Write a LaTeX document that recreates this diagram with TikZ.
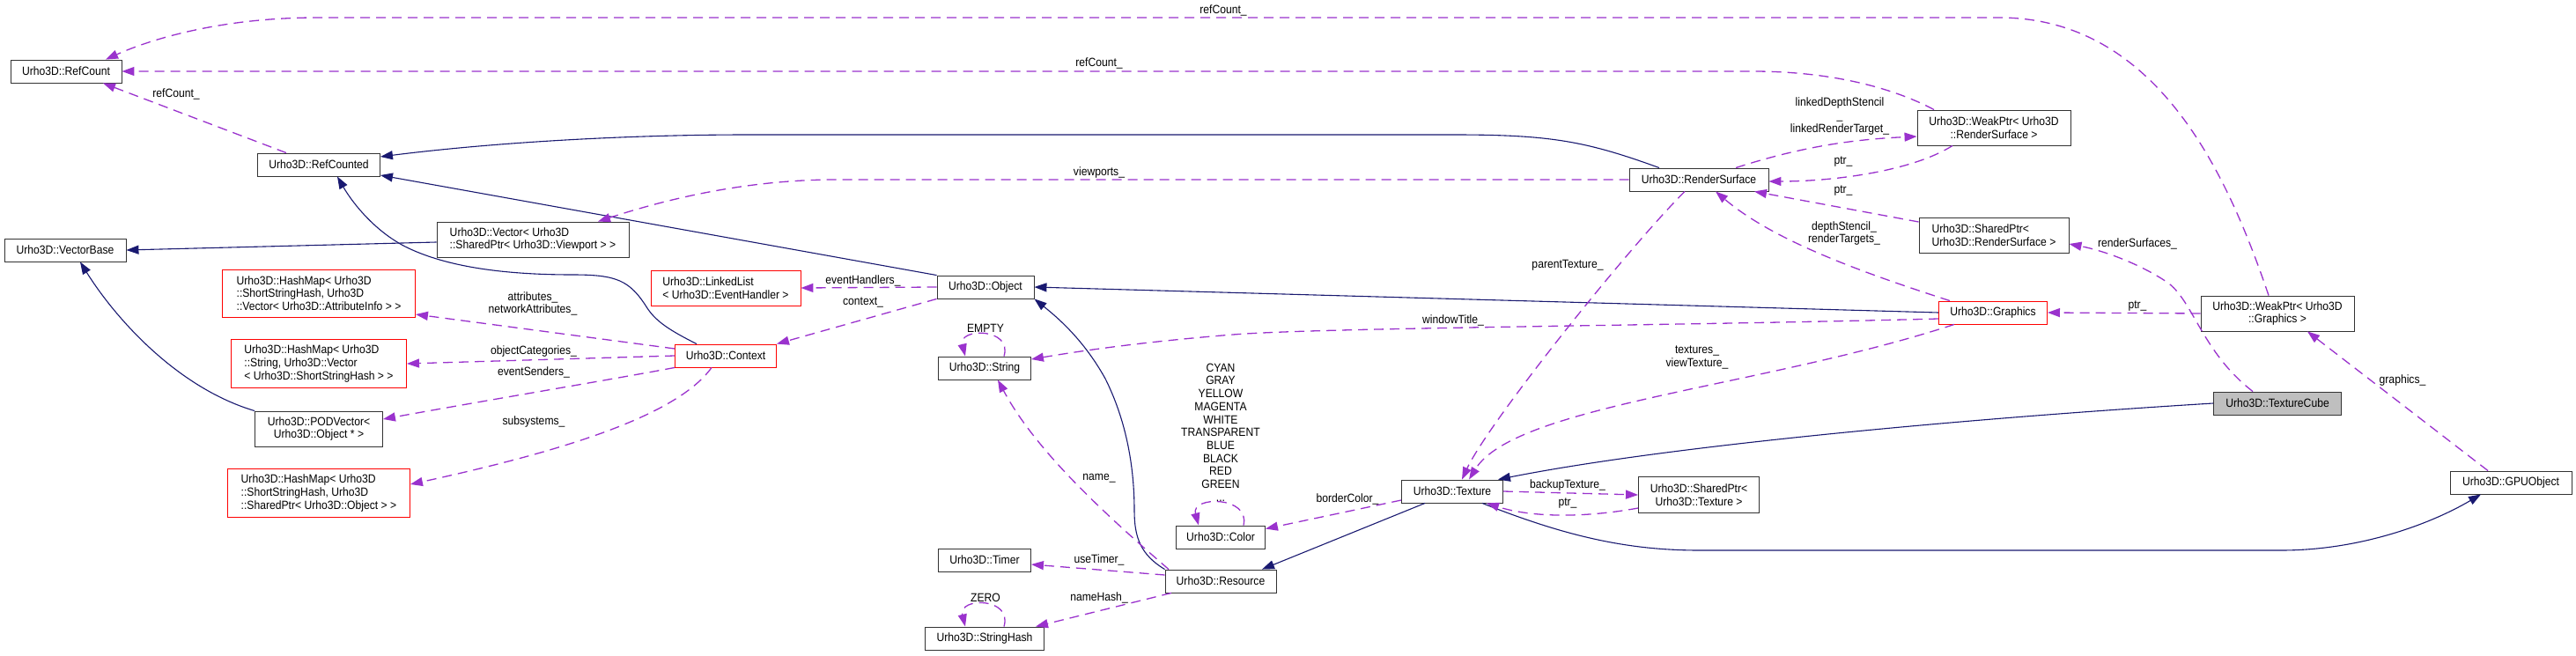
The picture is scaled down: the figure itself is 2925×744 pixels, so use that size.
\documentclass[tikz,border=0pt]{standalone}
\usepackage{fontspec}
\newfontfamily\dxfont{Liberation Sans}[FakeStretch=0.9]
\usetikzlibrary{arrows.meta,calc}
\definecolor{EdgeNavy}{RGB}{25,25,112}
\definecolor{EdgeOrchid}{RGB}{154,50,205}
\definecolor{BoxRed}{RGB}{255,0,0}
\definecolor{BoxGrey}{RGB}{191,191,191}

\begin{document}
\begin{tikzpicture}[x=1pt,y=-1pt,
    box/.style={draw=black!80,line width=0.9pt,fill=white,font=\dxfont\fontsize{13.5}{14.7}\selectfont,
                minimum height=26pt,inner xsep=5pt,inner ysep=2pt,text centered},
    redbox/.style={box,draw=BoxRed},
    lbl/.style={font=\dxfont\fontsize{13.5}{14.7}\selectfont,inner sep=0pt,align=center},
    inh/.style={-{Triangle[length=14pt,width=10pt]},EdgeNavy,line width=1.1pt},
    usage/.style={-{Triangle[length=14pt,width=10pt]},EdgeOrchid,line width=1.3pt,dash pattern=on 11pt off 7pt}
  ]
  \useasboundingbox (0,0) rectangle (2925,744);

  % classes
  \node[box,minimum width=126pt] (rcount) at (75,81) {Urho3D::RefCount};
  \node[box,minimum width=139pt] (rcounted) at (362,187) {Urho3D::RefCounted};
  \node[box,minimum width=138pt] (vbase) at (74,284) {Urho3D::VectorBase};
  \node[box,minimum width=218pt,minimum height=40pt,align=left] (vport) at (605,272) {Urho3D::Vector< Urho3D\\::SharedPtr< Urho3D::Viewport > >};
  \node[redbox,minimum width=219pt,minimum height=54pt,align=left] (attrmap) at (362,333) {Urho3D::HashMap< Urho3D\\::ShortStringHash, Urho3D\\::Vector< Urho3D::AttributeInfo > >};
  \node[redbox,minimum width=199pt,minimum height=55pt,align=left] (catmap) at (362,413) {Urho3D::HashMap< Urho3D\\::String, Urho3D::Vector\\< Urho3D::ShortStringHash > >};
  \node[box,minimum width=145pt,minimum height=40pt,align=center] (podvec) at (362,487) {Urho3D::PODVector<\\Urho3D::Object * >};
  \node[redbox,minimum width=207pt,minimum height=55pt,align=left] (subsmap) at (362,560) {Urho3D::HashMap< Urho3D\\::ShortStringHash, Urho3D\\::SharedPtr< Urho3D::Object > >};
  \node[redbox,minimum width=170pt,minimum height=40pt,align=left] (evlist) at (824,327) {Urho3D::LinkedList\\< Urho3D::EventHandler >};
  \node[redbox,minimum width=115pt] (ctx) at (824,404) {Urho3D::Context};
  \node[box,minimum width=110pt] (obj) at (1119,326) {Urho3D::Object};
  \node[box,minimum width=105pt] (str) at (1118,418) {Urho3D::String};
  \node[box,minimum width=105pt] (timer) at (1118,636) {Urho3D::Timer};
  \node[box,minimum width=135pt] (shash) at (1118,725) {Urho3D::StringHash};
  \node[box,minimum width=101pt] (col) at (1386,610) {Urho3D::Color};
  \node[box,minimum width=126pt] (res) at (1386,660) {Urho3D::Resource};
  \node[box,minimum width=115pt] (tex) at (1649,558) {Urho3D::Texture};
  \node[box,minimum width=137pt,minimum height=41pt,align=center] (texptr) at (1929,562) {Urho3D::SharedPtr<\\Urho3D::Texture >};
  \node[box,minimum width=158pt] (rsurf) at (1929,204) {Urho3D::RenderSurface};
  \node[box,minimum width=174pt,minimum height=40pt,align=center] (rsweak) at (2264,145) {Urho3D::WeakPtr< Urho3D\\::RenderSurface >};
  \node[box,minimum width=170pt,minimum height=40pt,align=left] (rsshared) at (2264,267) {Urho3D::SharedPtr<\\ Urho3D::RenderSurface >};
  \node[redbox,minimum width=123pt] (gfx) at (2263,355) {Urho3D::Graphics};
  \node[box,minimum width=174pt,minimum height=40pt,align=center] (gfxweak) at (2586,356) {Urho3D::WeakPtr< Urho3D\\::Graphics >};
  \node[box,fill=BoxGrey,minimum width=145pt] (texcube) at (2586,458) {Urho3D::TextureCube};
  \node[box,minimum width=138pt] (gpuobj) at (2851,548) {Urho3D::GPUObject};

  % inheritance
  \draw[inh] ([xshift=-45pt]rsurf.north) .. controls (1800,160) and (1760,153) .. (1650,153) -- (850,153)
    .. controls (700,153) and (550,163) .. ([yshift=9pt]rcounted.east);
  \draw[inh] (obj.north west) -- ([yshift=-12pt]rcounted.east);
  \draw[inh] ([xshift=-33pt]ctx.north) .. controls (760,375) and (745,365) .. (735,350)
    .. controls (715,318) and (700,312) .. (650,312) .. controls (560,312) and (500,300) .. (460,280)
    .. controls (425,262) and (400,230) .. ([xshift=21pt]rcounted.south);
  \draw[inh] ([yshift=-3pt]vport.west) -- (vbase.east);
  \draw[inh] (podvec.north west) .. controls (200,440) and (130,360) .. ([xshift=17pt]vbase.south);
  \draw[inh] (gfx.west) -- (obj.east);
  \draw[inh] (res.north west) .. controls (1295,630) and (1288,610) .. (1288,580)
    .. controls (1288,520) and (1275,470) .. (1255,430) .. controls (1230,385) and (1200,360) .. (obj.south east);
  \draw[inh] ([xshift=-31pt]tex.south) -- ([xshift=47pt]res.north);
  \draw[inh] (texcube.west) .. controls (2250,474) and (1900,505) .. ([xshift=-6pt]tex.north east);
  \draw[inh] ([xshift=34pt]tex.south) .. controls (1780,610) and (1850,625) .. (1930,625) -- (2590,625)
    .. controls (2680,625) and (2760,595) .. ([xshift=-34pt]gpuobj.south);

  % members
  \draw[usage] ([xshift=-37pt]rcounted.north) -- ([xshift=42pt]rcount.south);
  \draw[usage] ([xshift=-10pt]gfxweak.north) .. controls (2530,200) and (2450,20) .. (2270,20) -- (360,20)
    .. controls (250,20) and (170,45) .. ([xshift=45pt]rcount.north);
  \draw[usage] ([xshift=-68pt]rsweak.north) .. controls (2150,100) and (2080,81) .. (1990,81) -- (rcount.east);
  \draw[usage] (rsurf.west) -- (950,204) .. controls (850,204) and (760,225) .. ([xshift=74pt]vport.north);
  \draw[usage] ([xshift=42pt]rsurf.north) .. controls (2050,165) and (2110,158) .. ([yshift=-10pt]rsweak.west);
  \draw[usage] ([xshift=-47pt]rsweak.south) .. controls (2170,195) and (2080,206) .. ([yshift=-2pt]rsurf.east);
  \draw[usage] ([yshift=15pt]rsshared.west) -- ([xshift=63pt]rsurf.south);
  \draw[usage] ([xshift=-49pt]gfx.north) .. controls (2100,305) and (2010,270) .. ([xshift=19pt]rsurf.south);
  \draw[usage] ([xshift=-16pt]rsurf.south) .. controls (1850,280) and (1690,480) .. ([xshift=11pt]tex.north);
  \draw[usage] ([xshift=-44pt]gfx.south) .. controls (2000,440) and (1720,460) .. ([xshift=19pt]tex.north);
  \draw[usage] ([yshift=-7pt]gfx.west) .. controls (1900,370) and (1500,372) .. (1400,380)
    .. controls (1300,388) and (1230,398) .. ([yshift=10pt]str.east);
  \draw[usage] (obj.west) -- (evlist.east);
  \draw[usage] (obj.south west) -- (ctx.north east);
  \draw[usage] ([yshift=8pt]ctx.west) -- ([yshift=-24pt]attrmap.east);
  \draw[usage] (ctx.west) -- (catmap.east);
  \draw[usage] (ctx.south west) .. controls (700,430) and (550,455) .. ([yshift=11pt]podvec.east);
  \draw[usage] ([xshift=-16pt]ctx.south) .. controls (770,470) and (650,510) .. ([yshift=10pt]subsmap.east);
  \draw[usage] ([xshift=22pt]str.north) .. controls (1150,372) and (1088,372) .. ([xshift=-22pt]str.north);
  \draw[usage] ([xshift=-59pt]res.north) .. controls (1250,580) and (1175,510) .. ([xshift=15pt]str.south);
  \draw[usage] ([yshift=7pt]res.west) -- ([yshift=-5pt]timer.east);
  \draw[usage] ([xshift=-56pt]res.south) -- ([xshift=58pt]shash.north);
  \draw[usage] ([xshift=22pt]shash.north) .. controls (1150,678) and (1088,678) .. ([xshift=-22pt]shash.north);
  \draw[usage] ([xshift=26pt]col.north) .. controls (1420,563) and (1352,563) .. ([xshift=-25pt]col.north);
  \draw[usage] ([yshift=-10pt]tex.west) -- ([yshift=-4pt]col.north east);
  \draw[usage] (tex.east) -- (texptr.west);
  \draw[usage] ([yshift=-15pt]texptr.west) .. controls (1800,588) and (1740,588) .. ([xshift=39pt]tex.south);
  \draw[usage] ([xshift=-28pt]texcube.north) .. controls (2500,400) and (2490,340) .. (2460,320)
    .. controls (2430,300) and (2390,285) .. ([yshift=-10pt]rsshared.east);
  \draw[usage] (gfxweak.west) -- (gfx.east);
  \draw[usage] ([xshift=-26pt]gpuobj.north) -- ([xshift=34pt]gfxweak.south);

  % member names
  \node[lbl] (lrc1) at (200,107) {refCount\_};
  \node[lbl] (lrc2) at (1389,12) {refCount\_};
  \node[lbl] (lrc3) at (1248,72) {refCount\_};
  \node[lbl] (lvp) at (1248,196) {viewports\_};
  \node[lbl] (lattr) at (605,345) {attributes\_\\networkAttributes\_};
  \node[lbl] (lcat) at (606,399) {objectCategories\_};
  \node[lbl] (lsend) at (606,423) {eventSenders\_};
  \node[lbl] (lsub) at (606,479) {subsystems\_};
  \node[lbl] (levh) at (980,319) {eventHandlers\_};
  \node[lbl] (lctx) at (980,343) {context\_};
  \node[lbl] (lempty) at (1119,373) {EMPTY};
  \node[lbl] (lzero) at (1119,679) {ZERO};
  \node[lbl] (lcols) at (1386,491) {CYAN\\GRAY\\YELLOW\\MAGENTA\\WHITE\\TRANSPARENT\\BLUE\\BLACK\\RED\\GREEN\\...};
  \node[lbl] (lname) at (1248,543) {name\_};
  \node[lbl] (ltimer) at (1248,636) {useTimer\_};
  \node[lbl] (lhash) at (1248,679) {nameHash\_};
  \node[lbl] (lborder) at (1530,567) {borderColor\_};
  \node[lbl] (lbackup) at (1780,551) {backupTexture\_};
  \node[lbl] (lptr1) at (1780,572) {ptr\_};
  \node[lbl] (lparent) at (1780,301) {parentTexture\_};
  \node[lbl] (lwin) at (1650,364) {windowTitle\_};
  \node[lbl] (ltex) at (1927,406) {textures\_\\viewTexture\_};
  \node[lbl] (llinked) at (2089,132) {linkedDepthStencil\\\_\\linkedRenderTarget\_};
  \node[lbl] (lptr2) at (2093,184) {ptr\_};
  \node[lbl] (lptr3) at (2093,217) {ptr\_};
  \node[lbl] (ldepth) at (2094,265) {depthStencil\_\\renderTargets\_};
  \node[lbl] (lsurfs) at (2427,277) {renderSurfaces\_};
  \node[lbl] (lptr4) at (2427,348) {ptr\_};
  \node[lbl] (lgfx) at (2728,432) {graphics\_};
\end{tikzpicture}
\end{document}
